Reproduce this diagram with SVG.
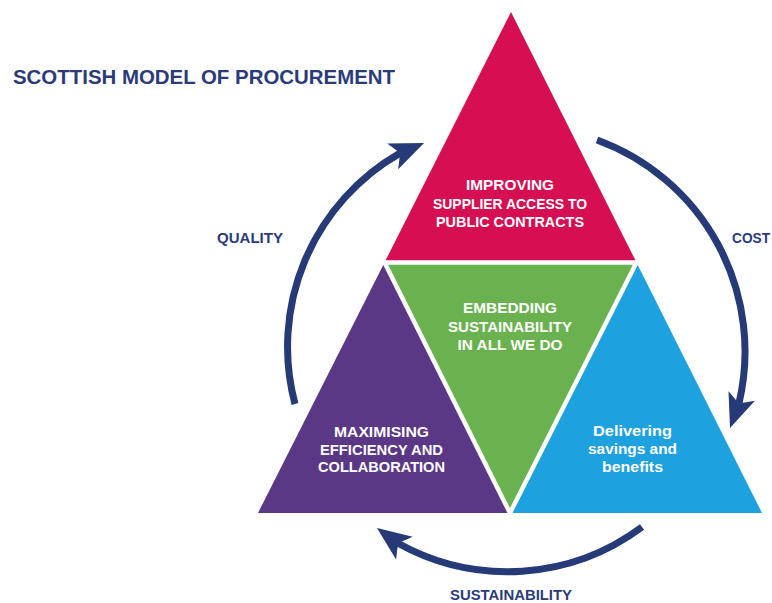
<svg xmlns="http://www.w3.org/2000/svg" width="772" height="603" viewBox="0 0 772 603">
<style>
.lbl{font-family:"Liberation Sans","Arial",sans-serif;font-weight:700;font-size:14px;fill:#ffffff;text-anchor:middle}
.cap{font-family:"Liberation Sans","Arial",sans-serif;font-weight:700;font-size:14px;fill:#2b3b7a}
.title{font-family:"Liberation Sans","Arial",sans-serif;font-weight:700;font-size:20px;fill:#2b3b7a}
.shaft{fill:none;stroke:#253a77;stroke-width:7;stroke-linecap:butt}
.head{fill:#253a77}
</style>
<rect width="772" height="603" fill="#ffffff"/>
<text class="title" x="13" y="84" textLength="382" lengthAdjust="spacingAndGlyphs">SCOTTISH MODEL OF PROCUREMENT</text>

<g id="connectors">
  <path class="shaft" d="M295,404 A223,223 0 0 1 400.1,153.1"/>
  <polygon class="head" points="424,143 398.2,169.2 400.1,153.1 387.2,143.4"/>
  <path class="shaft" d="M597,140 A225,225 0 0 1 738.9,403.6"/>
  <polygon class="head" points="730,428 728.5,391.2 738.9,403.6 754.9,400.8"/>
  <path class="shaft" d="M642,527 A225,225 0 0 1 398,543.3"/>
  <polygon class="head" points="377,528 412.7,536.8 398,543.3 396.1,559.4"/>
  <text class="cap" x="217" y="243" textLength="66" lengthAdjust="spacingAndGlyphs">QUALITY</text>
  <text class="cap" x="732" y="243" textLength="38" lengthAdjust="spacingAndGlyphs">COST</text>
  <text class="cap" x="450" y="600" textLength="122" lengthAdjust="spacingAndGlyphs">SUSTAINABILITY</text>
</g>

<g id="node-supplier-access">
  <polygon points="511,12 384.5,262.5 636.5,262.5" fill="#d50f51"/>
</g>
<g id="node-efficiency">
  <polygon points="384.5,262.5 258,513 510,513" fill="#5b3886"/>
</g>
<g id="node-savings">
  <polygon points="636.5,262.5 510,513 762,513" fill="#1da1df"/>
</g>
<g id="node-sustainability">
  <polygon points="384.5,262.5 636.5,262.5 510,513" fill="#6ab24f" stroke="#ffffff" stroke-width="4.5" stroke-linejoin="miter"/>
</g>

<g id="labels-supplier-access">
  <text class="lbl" x="510" y="190" textLength="88" lengthAdjust="spacingAndGlyphs">IMPROVING</text>
  <text class="lbl" x="510" y="208.5" textLength="154" lengthAdjust="spacingAndGlyphs">SUPPLIER ACCESS TO</text>
  <text class="lbl" x="510" y="227" textLength="148" lengthAdjust="spacingAndGlyphs">PUBLIC CONTRACTS</text>
</g>
<g id="labels-sustainability">
  <text class="lbl" x="510" y="313" textLength="94" lengthAdjust="spacingAndGlyphs">EMBEDDING</text>
  <text class="lbl" x="510" y="332" textLength="124" lengthAdjust="spacingAndGlyphs">SUSTAINABILITY</text>
  <text class="lbl" x="510" y="350" textLength="105" lengthAdjust="spacingAndGlyphs">IN ALL WE DO</text>
</g>
<g id="labels-efficiency">
  <text class="lbl" x="381.5" y="437" textLength="95" lengthAdjust="spacingAndGlyphs">MAXIMISING</text>
  <text class="lbl" x="381.5" y="454.5" textLength="123" lengthAdjust="spacingAndGlyphs">EFFICIENCY AND</text>
  <text class="lbl" x="381.5" y="472" textLength="127" lengthAdjust="spacingAndGlyphs">COLLABORATION</text>
</g>
<g id="labels-savings">
  <text class="lbl" x="632.5" y="436" textLength="79" lengthAdjust="spacingAndGlyphs">Delivering</text>
  <text class="lbl" x="632.5" y="454" textLength="89" lengthAdjust="spacingAndGlyphs">savings and</text>
  <text class="lbl" x="632.5" y="472" textLength="61" lengthAdjust="spacingAndGlyphs">benefits</text>
</g>
</svg>
